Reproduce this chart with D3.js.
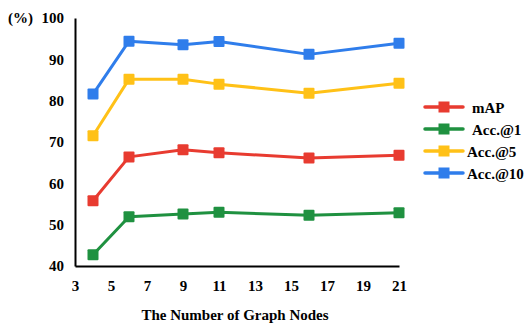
<!DOCTYPE html>
<html><head><meta charset="utf-8">
<script src="https://cdn.jsdelivr.net/npm/d3@7"></script>
<style>body{margin:0;background:#fff}svg{display:block}text{font-family:"Liberation Serif","Times New Roman",serif;font-weight:bold;fill:#000}</style>
</head><body><svg id="c" width="528" height="323"></svg>
<script>
const nodes = [4, 6, 9, 11, 16, 21];
const mAP = [55.8, 66.4, 68.1, 67.4, 66.1, 66.8];
const acc1 = [42.7, 51.9, 52.6, 53.0, 52.3, 52.9];
const acc5 = [71.5, 85.2, 85.2, 84.0, 81.8, 84.2];
const acc10 = [81.6, 94.4, 93.5, 94.3, 91.2, 93.9];
const seriesNames = ["mAP", "Acc.@1", "Acc.@5", "Acc.@10"];
const seriesColors = ["#E83B30", "#1F9140", "#FFC117", "#2F7DEB"];
const xTicks = [3, 5, 7, 9, 11, 13, 15, 17, 19, 21];
const yTicks = [40, 50, 60, 70, 80, 90, 100];
const xTitle = "The Number of Graph Nodes";
const yUnit = "(%)";

const series = [mAP, acc1, acc5, acc10];
const svg = d3.select("#c");
const x = d3.scaleLinear().domain([3, 21]).range([75, 399]);
const y = d3.scaleLinear().domain([40, 100]).range([266, 18]);

// axes
const xa = svg.append("g").attr("transform", "translate(0,266)")
  .call(d3.axisBottom(x).tickValues(xTicks).tickSize(0).tickPadding(14));
xa.select(".domain").attr("stroke", "#000").attr("stroke-width", 2);
xa.selectAll("text").style("font-size", "15px").style("font-family", "Liberation Serif").style("font-weight", "bold");
const ya = svg.append("g").attr("transform", "translate(75,0)")
  .call(d3.axisLeft(y).tickValues(yTicks).tickSize(0).tickPadding(11));
ya.select(".domain").attr("stroke", "#000").attr("stroke-width", 2);
ya.selectAll("text").style("font-size", "15px").style("font-family", "Liberation Serif").style("font-weight", "bold");

svg.append("text").attr("x", 8).attr("y", 23).style("font-size", "15px").text(yUnit);
svg.append("text").attr("x", 235).attr("y", 320).attr("text-anchor", "middle").style("font-size", "15px").text(xTitle);

const line = d3.line().x((d, i) => x(nodes[i])).y(d => y(d));
series.forEach((s, k) => {
  const g = svg.append("g");
  g.append("path").attr("d", line(s)).attr("fill", "none")
    .attr("stroke", seriesColors[k]).attr("stroke-width", 3).attr("stroke-linejoin", "round");
  g.selectAll("rect").data(s).join("rect")
    .attr("x", (d, i) => x(nodes[i]) - 5.5).attr("y", d => y(d) - 5.5)
    .attr("width", 11).attr("height", 11).attr("rx", 1).attr("fill", seriesColors[k]);
});

// legend
const lg = svg.append("g").attr("transform", "translate(425,107)");
seriesNames.forEach((n, k) => {
  const row = lg.append("g").attr("transform", `translate(0,${k * 22})`);
  row.append("line").attr("x1", 0).attr("x2", 38).attr("y1", 0).attr("y2", 0)
    .attr("stroke", seriesColors[k]).attr("stroke-width", 3.5).attr("stroke-linecap", "round");
  row.append("rect").attr("x", 13.5).attr("y", -5.5).attr("width", 11).attr("height", 11).attr("fill", seriesColors[k]);
  row.append("text").attr("x", k < 2 ? 47 : 42).attr("y", 5.5).style("font-size", "15px").text(n);
});
</script></body></html>
